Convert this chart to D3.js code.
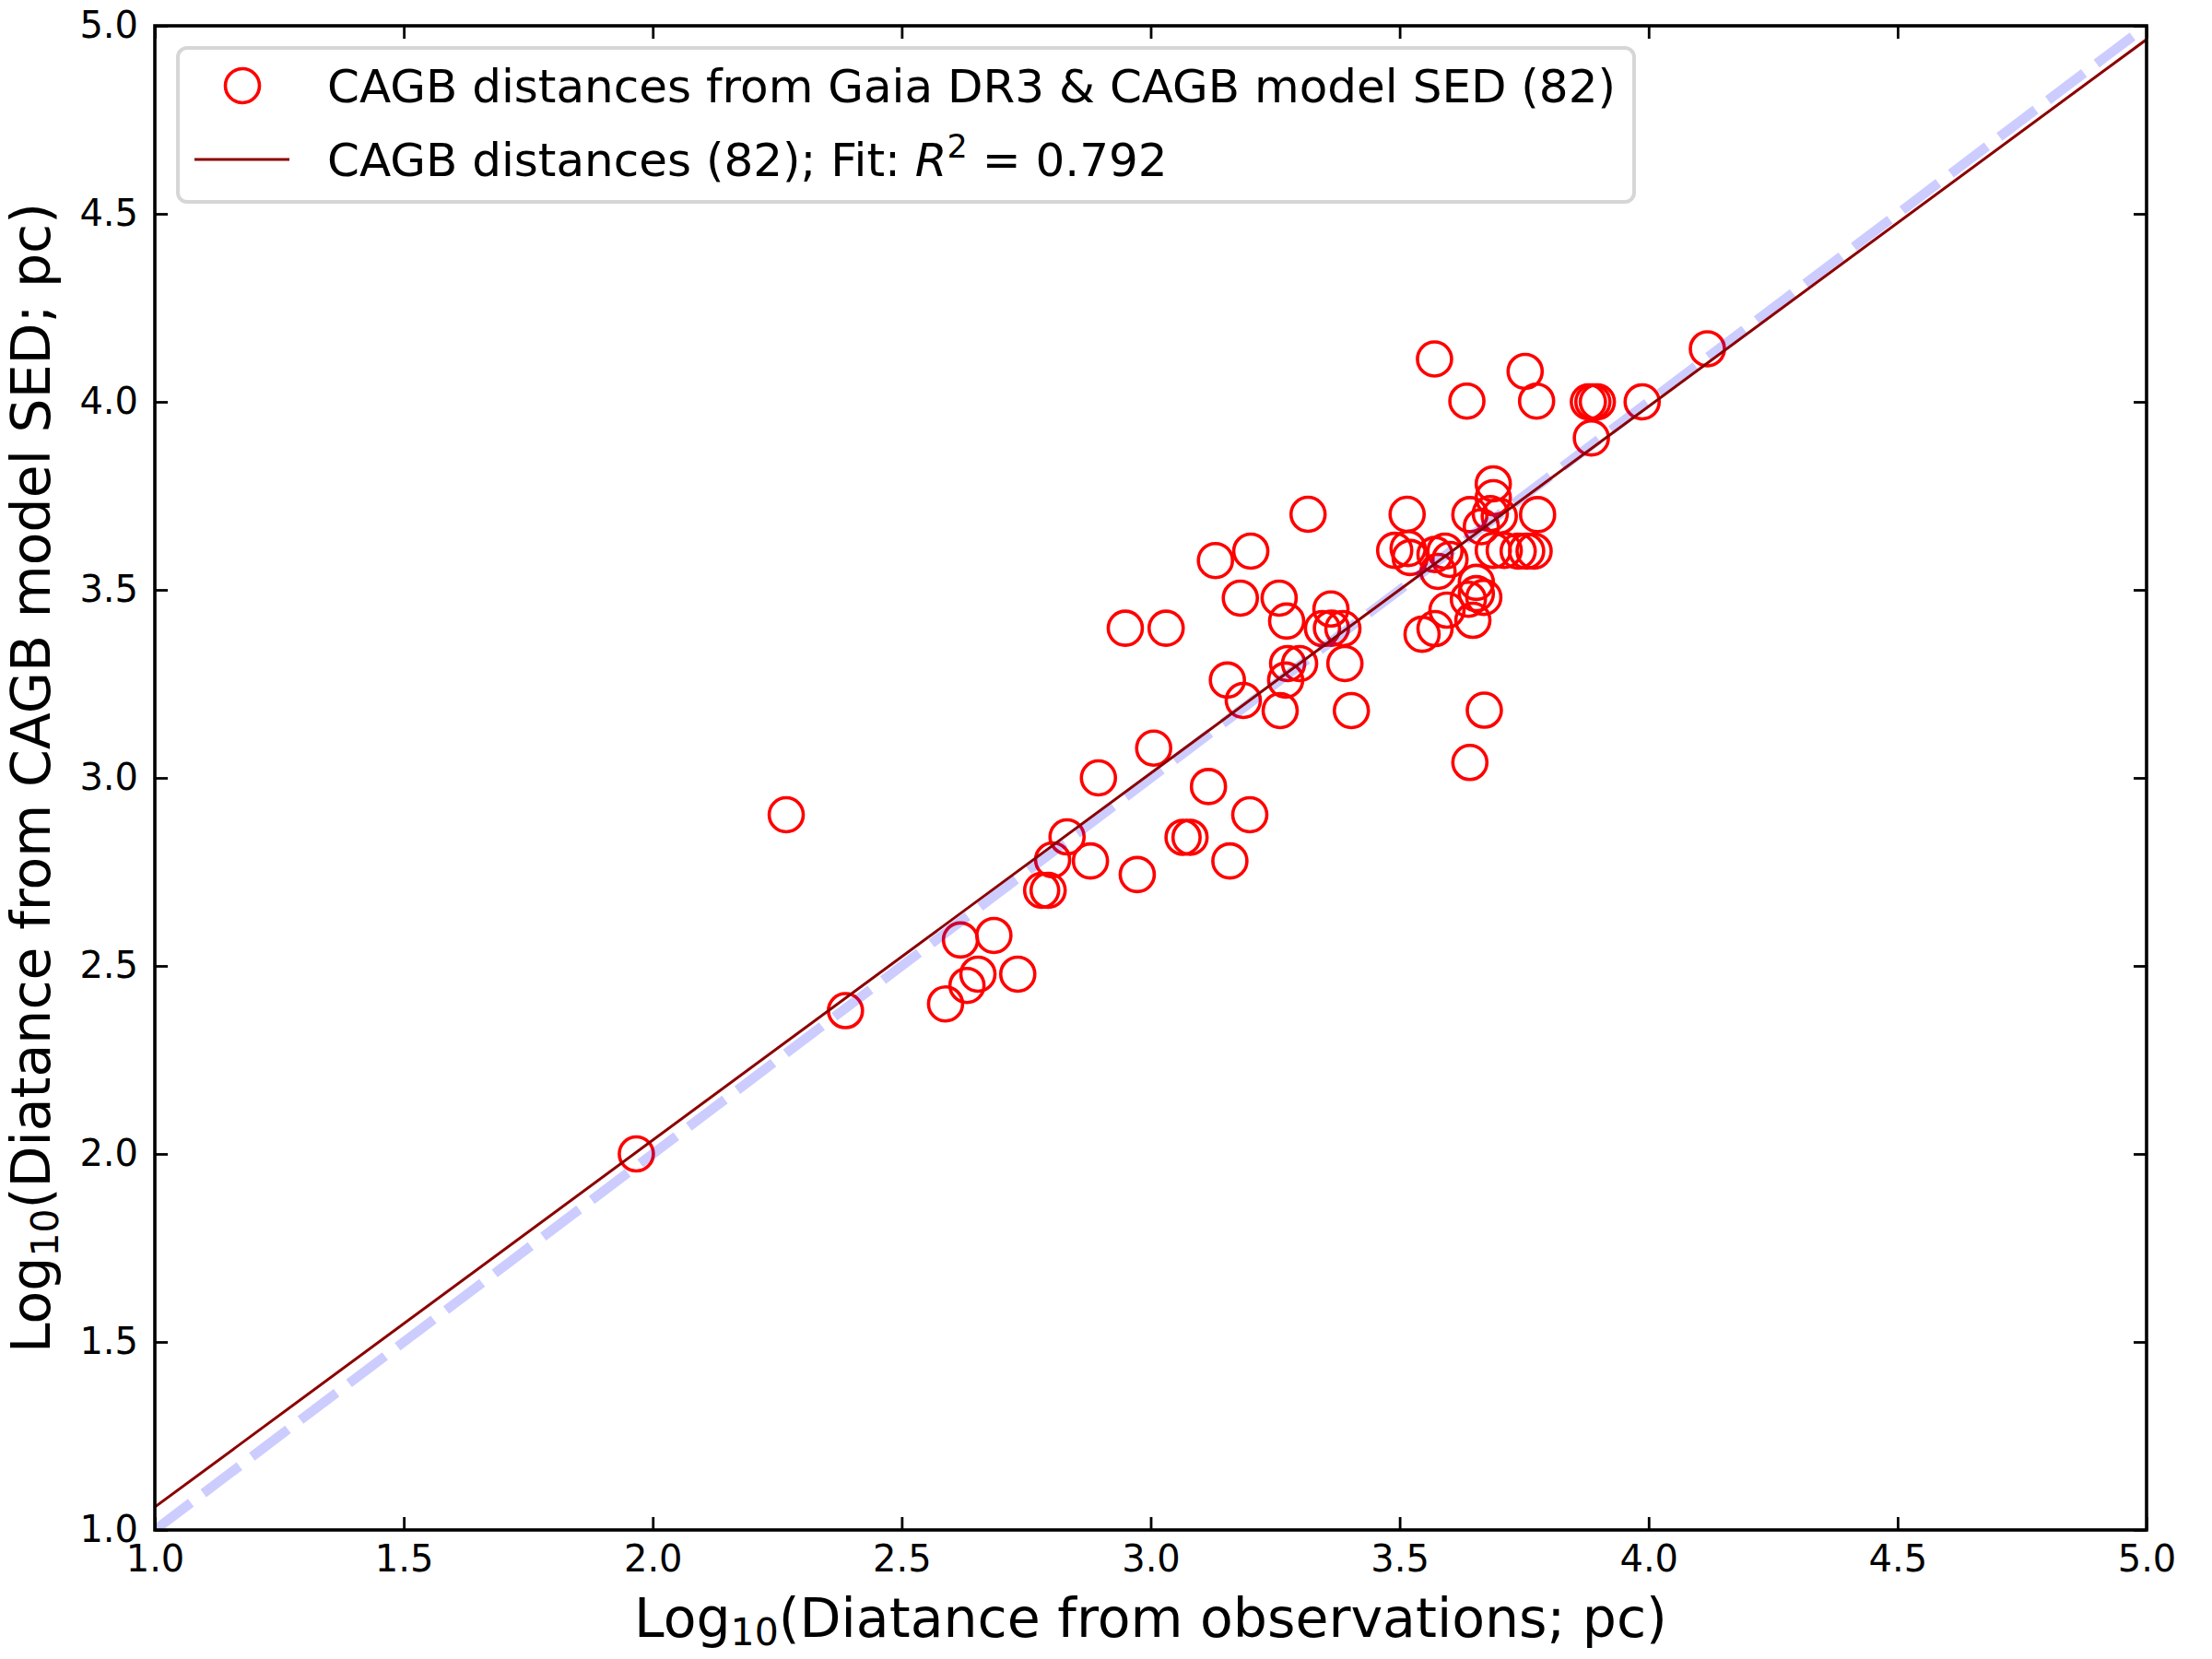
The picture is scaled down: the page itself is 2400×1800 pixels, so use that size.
<!DOCTYPE html>
<html>
<head>
	<title> CAGB distances </title>
	<script src="https://d3js.org/d3.v7.min.js"></script>
	<style>
		body { margin: 0; background: #fff; }
		text { font-family: "DejaVu Sans", sans-serif; }
	</style>
</head>
<body>
	<svg width="2400" height="1800"></svg>
	<script type="text/javascript">
		// log10 distance from observations (x) and from CAGB model SED (y)
		let obsDist = [1.967, 2.268, 2.387, 2.588, 2.631, 2.653, 2.618, 2.685, 2.733, 2.781,
			2.794, 2.803, 2.832, 2.879, 2.895, 2.949, 2.973, 3.006, 3.031, 3.065,
			3.079, 3.116, 3.130, 3.154, 3.159, 3.180, 3.186, 3.199, 3.201, 3.258,
			3.260, 3.273, 3.275, 3.271, 3.299, 3.316, 3.345, 3.362, 3.363, 3.386,
			3.390, 3.403, 3.490, 3.515, 3.517, 3.521, 3.545, 3.570, 3.571, 3.591,
			3.577, 3.571, 3.595, 3.635, 3.641, 3.641, 3.654, 3.654, 3.669, 3.638,
			3.647, 3.670, 3.682, 3.688, 3.688, 3.700, 3.688, 3.710, 3.738, 3.755,
			3.770, 3.752, 3.775, 3.777, 3.879, 3.888, 3.897, 3.885, 3.987, 4.118,
			3.601, 3.664];
		let sedDist = [2.000, 2.902, 2.381, 2.399, 2.448, 2.478, 2.569, 2.581, 2.478, 2.701,
			2.701, 2.782, 2.843, 2.779, 3.000, 3.398, 2.743, 3.079, 3.398, 2.842,
			2.842, 2.977, 3.578, 3.260, 2.779, 3.478, 3.206, 2.902, 3.603, 3.478,
			3.179, 3.417, 3.304, 3.260, 3.304, 3.701, 3.397, 3.449, 3.398, 3.397,
			3.304, 3.179, 3.605, 3.701, 3.610, 3.586, 3.382, 4.114, 3.594, 3.603,
			3.549, 3.397, 3.446, 4.002, 3.700, 3.041, 3.520, 3.490, 3.480, 3.475,
			3.419, 3.180, 3.703, 3.782, 3.745, 3.696, 3.605, 3.605, 3.603, 3.603,
			3.603, 4.081, 4.002, 3.700, 4.000, 4.000, 4.000, 3.904, 4.000, 4.141,
			3.581, 3.668];
		// linear fit y = slope * x + intercept
		let fitCoef = [0.9757, 0.0853];
		let axisTicks = [1.0, 1.5, 2.0, 2.5, 3.0, 3.5, 4.0, 4.5, 5.0];
		let axisRange = [1, 5];

		let svg = d3.select("svg");
		let pLeft = 168, pRight = 2329, pTop = 28, pBottom = 1660;
		let x = d3.scaleLinear().domain(axisRange).range([pLeft, pRight]);
		let y = d3.scaleLinear().domain(axisRange).range([pBottom, pTop]);

		svg.append("defs").append("clipPath").attr("id", "plotclip")
			.append("rect").attr("x", pLeft).attr("y", pTop)
			.attr("width", pRight - pLeft).attr("height", pBottom - pTop);
		let plot = svg.append("g").attr("clip-path", "url(#plotclip)");

		// points
		plot.selectAll("circle").data(obsDist).join("circle")
			.attr("cx", function(d) { return x(d); })
			.attr("cy", function(d, i) { return y(sedDist[i]); })
			.attr("r", 18.5)
			.attr("fill", "none")
			.attr("stroke", "#ff0000")
			.attr("stroke-width", 3.6);

		let line = d3.line().x(function(d) { return x(d[0]); }).y(function(d) { return y(d[1]); });

		// one-to-one line
		plot.append("path")
			.datum(axisRange.map(function(v) { return [v, v]; }))
			.attr("fill", "none")
			.attr("stroke", "#0000ff")
			.attr("stroke-opacity", 0.2)
			.attr("stroke-width", 10.5)
			.attr("stroke-dasharray", "49,17")
			.attr("d", line);

		// fit line
		plot.append("path")
			.datum(axisRange.map(function(v) { return [v, fitCoef[0] * v + fitCoef[1]]; }))
			.attr("fill", "none")
			.attr("stroke", "#8b0000")
			.attr("stroke-width", 3)
			.attr("d", line);

		// axes, ticks pointing in
		let fmt = d3.format(".1f");
		svg.append("g").attr("transform", "translate(0," + pBottom + ")")
			.call(d3.axisBottom(x).tickValues(axisTicks).tickFormat(fmt).tickSizeInner(-14).tickSizeOuter(0).tickPadding(17));
		svg.append("g").attr("transform", "translate(" + pLeft + ",0)")
			.call(d3.axisLeft(y).tickValues(axisTicks).tickFormat(fmt).tickSizeInner(-14).tickSizeOuter(0).tickPadding(18));
		svg.append("g").attr("transform", "translate(0," + pTop + ")")
			.call(d3.axisTop(x).tickValues(axisTicks).tickFormat("").tickSizeInner(-14).tickSizeOuter(0));
		svg.append("g").attr("transform", "translate(" + pRight + ",0)")
			.call(d3.axisRight(y).tickValues(axisTicks).tickFormat("").tickSizeInner(-14).tickSizeOuter(0));
		svg.selectAll(".domain").remove();
		svg.selectAll(".tick line").attr("stroke", "black").attr("stroke-width", 2.8);
		svg.selectAll(".tick text").attr("font-size", 40).attr("fill", "black")
			.style("font-family", "DejaVu Sans");

		svg.append("rect")
			.attr("x", pLeft).attr("y", pTop)
			.attr("width", pRight - pLeft).attr("height", pBottom - pTop)
			.attr("fill", "none").attr("stroke", "black").attr("stroke-width", 3.6);

		// axis labels
		let xl = svg.append("text").attr("x", (pLeft + pRight) / 2).attr("y", 1776)
			.attr("text-anchor", "middle").attr("font-size", 58.5);
		xl.append("tspan").text("Log");
		xl.append("tspan").attr("font-size", 41).attr("dy", 9).text("10");
		xl.append("tspan").attr("dy", -9).text("(Diatance from observations; pc)");

		let yl = svg.append("text").attr("transform", "translate(54," + (pTop + pBottom) / 2 + ") rotate(-90)")
			.attr("text-anchor", "middle").attr("font-size", 58.5);
		yl.append("tspan").text("Log");
		yl.append("tspan").attr("font-size", 41).attr("dy", 9).text("10");
		yl.append("tspan").attr("dy", -9).text("(Diatance from CAGB model SED; pc)");

		// legend
		let lg = svg.append("g");
		lg.append("rect").attr("x", 193).attr("y", 52).attr("width", 1580).attr("height", 167)
			.attr("rx", 10).attr("fill", "white").attr("fill-opacity", 0.8)
			.attr("stroke", "#d6d6d6").attr("stroke-width", 4);
		lg.append("circle").attr("cx", 263).attr("cy", 93).attr("r", 18.5)
			.attr("fill", "none").attr("stroke", "#ff0000").attr("stroke-width", 3.6);
		lg.append("line").attr("x1", 211).attr("x2", 314).attr("y1", 173).attr("y2", 173)
			.attr("stroke", "#8b0000").attr("stroke-width", 3);
		lg.append("text").attr("x", 355).attr("y", 111).attr("font-size", 50)
			.text("CAGB distances from Gaia DR3 & CAGB model SED (82)");
		let t2 = lg.append("text").attr("x", 355).attr("y", 191).attr("font-size", 50);
		t2.append("tspan").text("CAGB distances (82); Fit: ");
		t2.append("tspan").attr("font-style", "italic").text("R");
		t2.append("tspan").attr("font-size", 35).attr("dy", -20).text("2");
		t2.append("tspan").attr("dy", 20).text(" = 0.792");
	</script>
</body>
</html>
